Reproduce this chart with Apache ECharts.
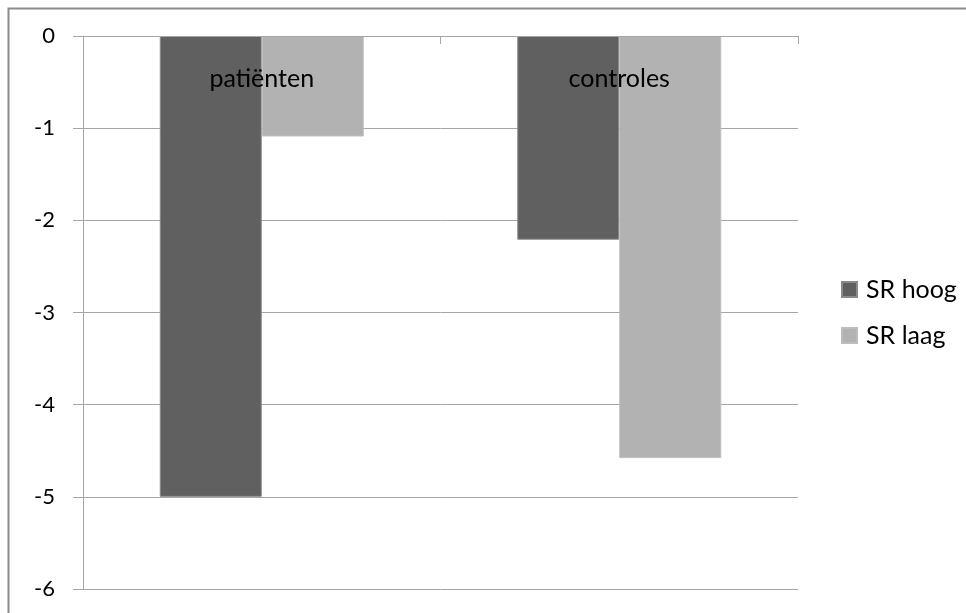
<!DOCTYPE html>
<html>
<head>
<meta charset="utf-8">
<script src="https://cdn.jsdelivr.net/npm/echarts@6/dist/echarts.min.js"></script>
<style>
  html, body { margin: 0; padding: 0; background: #fff; }
  #chart { width: 966px; height: 613px; }
</style>
</head>
<body>
<div id="chart"></div>
<script>
// categorieen en waarden
const categories = ['patiënten', 'controles']
const seriesNames = ['SR hoog', 'SR laag']
const srHoog = [-5.0, -2.21]
const srLaag = [-1.09, -4.58]
const yTicks = [0, -1, -2, -3, -4, -5, -6]

const fontFamily = 'Lato, "Open Sans", sans-serif'
const chart = echarts.init(document.getElementById('chart'), null, { renderer: 'canvas' })

chart.setOption({
  backgroundColor: '#fff',
  animation: false,
  color: ['#606060', '#b2b2b2'],
  graphic: [{
    // rand van het kader (alleen boven en links zichtbaar)
    type: 'rect',
    left: 6, top: 6,
    shape: { width: 1000, height: 700 },
    style: { fill: 'none', stroke: '#8c8c8c', lineWidth: 2 },
    silent: true
  }],
  legend: {
    orient: 'vertical',
    left: 836,
    top: 272,
    itemWidth: 15,
    itemHeight: 15,
    itemGap: 21,
    icon: 'rect',
    textStyle: { fontFamily, fontSize: 25, color: '#000', padding: [0, 0, 0, 4] },
    data: seriesNames
  },
  grid: { left: 83, top: 36, right: 168, bottom: 24, containLabel: false, outerBoundsMode: 'none' },
  xAxis: {
    type: 'category',
    position: 'top',
    z: 10,
    data: categories,
    axisLine: { onZero: false, lineStyle: { color: '#a6a6a6', width: 1 } },
    axisTick: { show: true, inside: true, length: 8, lineStyle: { color: '#a6a6a6' } },
    axisLabel: { inside: true, margin: 30, fontFamily, fontSize: 25, color: '#000' }
  },
  yAxis: {
    type: 'value',
    min: -6,
    max: 0,
    interval: 1,
    axisLine: { show: true, onZero: false, lineStyle: { color: '#a6a6a6', width: 1 } },
    axisTick: { show: true, length: 10, lineStyle: { color: '#a6a6a6' } },
    axisLabel: {
      margin: 28, fontFamily, fontSize: 22, color: '#000',
      formatter: v => yTicks.includes(v) ? String(v) : ''
    },
    splitLine: { show: true, lineStyle: { color: '#a6a6a6', width: 1 } }
  },
  series: [
    {
      name: seriesNames[0],
      type: 'bar',
      data: srHoog,
      barWidth: 102,
      barGap: '0%',
      itemStyle: { borderColor: '#8a8a8a', borderWidth: 1 }
    },
    {
      name: seriesNames[1],
      type: 'bar',
      data: srLaag,
      barWidth: 102,
      barGap: '0%',
      itemStyle: { borderColor: '#bdbdbd', borderWidth: 1 }
    }
  ]
})
</script>
</body>
</html>
